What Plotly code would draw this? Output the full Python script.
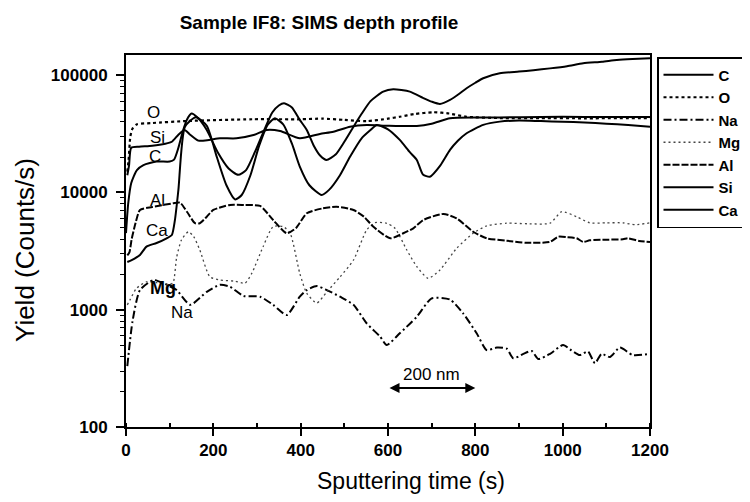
import math
import plotly.graph_objects as go

# ---------------- data ----------------
t_C = [0, 5, 12, 25, 40, 70, 100, 110, 120, 130, 140, 150, 165, 185, 210, 235, 257, 275, 295, 315,
       335, 350, 362, 380, 398, 414, 430, 445, 459, 480, 500, 521, 540, 560, 589, 612, 650, 680, 700,
       719, 742, 760, 780, 800, 818, 856, 900, 933, 971, 1010, 1047, 1090, 1124, 1160, 1200]
y_C = [4500, 8000, 12000, 15500, 17100, 18300, 18300, 19000, 24000, 33000, 42000, 47000, 43000, 34000,
       22000, 16000, 14100, 15500, 22000, 33000, 48000, 55000, 57500, 53000, 41500, 34000, 25000, 20500,
       18900, 21000, 27000, 36300, 47000, 60000, 72300, 75700, 72300, 64000, 59300, 56700, 61400, 68000,
       77200, 86000, 94000, 103500, 107000, 110000, 114000, 119000, 126000, 130000, 134500, 137000, 139000]

t_O = [3, 6, 10, 15, 25, 60, 140, 290, 400, 450, 500, 551, 600, 627, 660, 704, 740, 780, 856, 950, 1050, 1200]
y_O = [15000, 19000, 30000, 35000, 38000, 39000, 40600, 42000, 42000, 42500, 41500, 40500, 42500, 44100,
       46500, 48200, 47000, 44100, 43000, 43000, 42800, 43000]

t_Na = [3, 15, 32, 63, 90, 116, 147, 185, 215, 238, 269, 307, 337, 368, 398, 414, 437, 460, 490, 521,
        551, 582, 597, 627, 666, 700, 742, 772, 803, 826, 849, 872, 887, 910, 929, 944, 971, 1001, 1020,
        1039, 1058, 1074, 1089, 1108, 1131, 1161, 1200]
y_Na = [330, 800, 1470, 1790, 1650, 1470, 1100, 1420, 1630, 1570, 1310, 1290, 1100, 900, 1290, 1470,
        1590, 1470, 1290, 1100, 766, 589, 500, 629, 871, 1250, 1220, 931, 629, 453, 475, 465, 385, 420,
        445, 380, 420, 500, 450, 410, 440, 349, 420, 395, 475, 410, 420]

t_Mg = [3, 9, 24, 47, 70, 100, 108, 116, 127, 143, 155, 169, 192, 215, 250, 272, 288, 314, 337, 360,
        376, 398, 414, 437, 460, 490, 521, 551, 570, 597, 616, 643, 666, 692, 719, 757, 795, 826, 872,
        920, 971, 998, 1032, 1062, 1100, 1138, 1166, 1200]
y_Mg = [1100, 1210, 1520, 1730, 1700, 1650, 1700, 2800, 3930, 4620, 4200, 3230, 1910, 1790, 1750, 1680,
        2040, 3450, 5110, 5110, 4480, 2040, 1380, 1140, 1420, 1900, 2650, 4770, 5520, 5450, 4940, 3230,
        2330, 1850, 2180, 3330, 4480, 5180, 5460, 5400, 5460, 6840, 6200, 5500, 5500, 5500, 5300, 5500]

t_Al = [3, 8, 13, 22, 32, 60, 108, 124, 140, 158, 169, 185, 200, 238, 270, 307, 337, 368, 390, 414,
        450, 482, 521, 545, 566, 605, 635, 658, 681, 727, 757, 795, 826, 872, 917, 971, 990, 1010, 1032,
        1047, 1062, 1100, 1138, 1150, 1175, 1200]
y_Al = [2900, 3100, 4000, 5500, 7080, 7500, 8070, 8160, 6800, 5460, 5460, 6200, 7080, 7820, 7800, 7660,
        5820, 4480, 5000, 6640, 7300, 7550, 7080, 6200, 5110, 4060, 4480, 4940, 5820, 6550, 6010, 4620,
        4060, 3870, 3720, 3780, 4190, 4150, 4060, 3780, 3900, 3950, 3980, 4060, 3850, 3780]

t_Si = [3, 7, 12, 30, 60, 90, 105, 120, 134, 145, 166, 190, 215, 253, 292, 322, 353, 398, 444, 475,
        513, 551, 600, 666, 700, 742, 800, 856, 950, 1050, 1150, 1200]
y_Si = [14000, 17000, 24000, 24500, 25000, 26000, 27000, 31000, 34000, 31500, 27600, 28000, 28900,
        28900, 30800, 34000, 33300, 28900, 31500, 32900, 36300, 37600, 37000, 36800, 38500, 42800, 43500,
        43500, 44000, 44000, 44000, 44000]

t_Ca = [3, 13, 32, 47, 70, 93, 105, 112, 120, 135, 160, 185, 208, 230, 250, 265, 285, 305, 325, 341,
        360, 380, 398, 420, 448, 465, 490, 513, 540, 560, 574, 600, 627, 650, 666, 680, 696, 720, 742,
        760, 780, 818, 856, 900, 950, 1000, 1050, 1100, 1150, 1200]
y_Ca = [2550, 2650, 2930, 3450, 3700, 4060, 4330, 5800, 10500, 36300, 43700, 37000, 20000, 11500, 8700,
        9500, 14000, 25000, 38000, 42800, 38000, 26000, 16600, 11500, 9500, 10500, 14000, 20100, 29000,
        34000, 37600, 34500, 28000, 22000, 18900, 14200, 13600, 17000, 23000, 27500, 31900, 37600, 40100,
        41000, 40500, 40000, 39500, 38500, 37500, 36300]

x_ticks = [0, 200, 400, 600, 800, 1000, 1200]

series = [
    ("C", t_C, y_C, dict(color="black", width=2, dash="solid")),
    ("O", t_O, y_O, dict(color="black", width=2.2, dash="dot")),
    ("Na", t_Na, y_Na, dict(color="black", width=2, dash="8px,3px,2px,3px")),
    ("Mg", t_Mg, y_Mg, dict(color="#444444", width=1.3, dash="2px,3px")),
    ("Al", t_Al, y_Al, dict(color="black", width=2, dash="7px,2px")),
    ("Si", t_Si, y_Si, dict(color="black", width=2, dash="solid")),
    ("Ca", t_Ca, y_Ca, dict(color="black", width=2, dash="solid")),
]

FONT = "Liberation Sans, Arial, sans-serif"
OFF = 8  # page body margin of the html page

fig = go.Figure()
for name, t, y, ln in series:
    fig.add_trace(go.Scatter(x=t, y=y, name=name, mode="lines",
                             line=dict(shape="spline", smoothing=0.6, **ln)))

fig.update_layout(
    width=750, height=502,
    margin=dict(l=126 - OFF, r=750 - (126 - OFF) - 524, t=55 - OFF, b=502 - (55 - OFF) - 372,
                autoexpand=False),
    paper_bgcolor="white", plot_bgcolor="white",
    font=dict(family=FONT, color="black"),
    title=dict(text="Sample IF8: SIMS depth profile", x=(319 - OFF) / 750, xref="container",
               xanchor="center", y=1 - (22 - OFF) / 502, yref="container", yanchor="middle",
               font=dict(family=FONT, size=19, weight="bold", color="black")),
    showlegend=True,
    legend=dict(x=(657 - OFF) / 750, y=1 - (57 - OFF) / 502, xref="container", yref="container",
                xanchor="left", yanchor="top", bgcolor="white",
                bordercolor="black", borderwidth=1.5, itemwidth=50, tracegroupgap=0,
                font=dict(family=FONT, size=15, weight="bold", color="black")),
)

fig.update_xaxes(range=[0, 1200], tickvals=x_ticks, ticks="outside", ticklen=7, tickwidth=1.5,
                 tickcolor="black", showline=True, linewidth=2, linecolor="black", mirror=True,
                 showgrid=False, zeroline=False, automargin=False,
                 minor=dict(dtick=100, ticks="inside", ticklen=4, tickwidth=1.5, tickcolor="black"),
                 tickfont=dict(family=FONT, size=17, weight="bold", color="black"))

fig.update_yaxes(type="log", range=[2, 5.171], dtick=1, tickformat="d", ticklabelstandoff=5,
                 ticks="outside", ticklen=8, tickwidth=1.5, tickcolor="black",
                 showline=True, linewidth=2, linecolor="black", mirror=True,
                 showgrid=False, zeroline=False, automargin=False,
                 minor=dict(dtick="D1", ticks="outside", ticklen=4, tickwidth=1.2, tickcolor="black"),
                 tickfont=dict(family=FONT, size=17, weight="bold", color="black"))

# axis titles
fig.add_annotation(text="Sputtering time (s)", xref="paper", yref="paper",
                   x=(411 - 126) / 524, y=(427 - 481) / 372, xanchor="center", yanchor="middle",
                   showarrow=False, font=dict(family=FONT, size=23, color="black"))
fig.add_annotation(text="Yield (Counts/s)", xref="paper", yref="paper", textangle=-90,
                   x=(25 - 126) / 524, y=(427 - 250) / 372, xanchor="center", yanchor="middle",
                   showarrow=False, font=dict(family=FONT, size=26, color="black"))

# in-plot labels
labels = [("O", 62, 48400, 17, "normal"), ("Si", 71, 29600, 17, "normal"),
          ("C", 67, 20400, 17, "normal"), ("Al", 71, 8450, 17, "normal"),
          ("Ca", 71, 4770, 17, "normal"), ("Mg", 85, 1530, 18, "bold"),
          ("Na", 128, 955, 17, "normal")]
for txt, lx, ly, sz, wt in labels:
    fig.add_annotation(text=txt, x=lx, y=math.log10(ly), xref="x", yref="y", showarrow=False,
                       xanchor="center", yanchor="middle",
                       font=dict(family=FONT, size=sz, weight=wt, color="black"))

# 200 nm scale arrow
fig.add_annotation(x=800, y=math.log10(215), ax=600, ay=math.log10(215), xref="x", yref="y",
                   axref="x", ayref="y", text="", showarrow=True, arrowside="end+start",
                   arrowhead=2, arrowsize=1, arrowwidth=2, arrowcolor="black")
fig.add_annotation(text="200 nm", x=700, y=math.log10(278), xref="x", yref="y", showarrow=False,
                   xanchor="center", yanchor="middle",
                   font=dict(family=FONT, size=17, color="black"))

fig.write_html("out.html")
